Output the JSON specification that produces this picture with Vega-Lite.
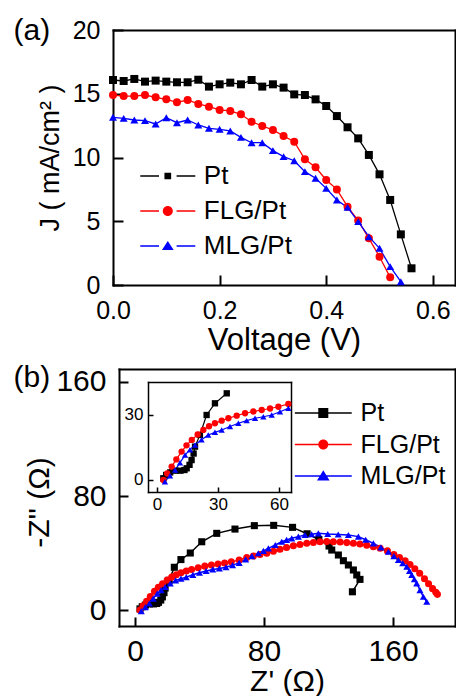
{
  "$schema": "https://vega.github.io/schema/vega-lite/v6.json",
  "width": 456,
  "height": 696,
  "autosize": "none",
  "padding": 0,
  "background": "white",
  "config": {
    "font": "Liberation Sans",
    "view": {"stroke": null},
    "axis": {
      "grid": false,
      "domainColor": "black",
      "domainWidth": 2,
      "domainCap": "square",
      "tickColor": "black",
      "tickWidth": 2,
      "labelColor": "black",
      "titleColor": "black",
      "titleFontWeight": "normal",
      "labelFlush": false,
      "labelOverlap": false
    },
    "legend": {"labelColor": "black", "padding": 0, "symbolStrokeWidth": 0}
  },
  "datasets": {
    "jv": [
      {"s": "Pt", "v": 0.00, "j": 16.08}, {"s": "Pt", "v": 0.02, "j": 16.0}, {"s": "Pt", "v": 0.04, "j": 16.16}, {"s": "Pt", "v": 0.06, "j": 15.95},
      {"s": "Pt", "v": 0.08, "j": 16.03}, {"s": "Pt", "v": 0.10, "j": 15.95}, {"s": "Pt", "v": 0.12, "j": 15.9}, {"s": "Pt", "v": 0.14, "j": 15.9},
      {"s": "Pt", "v": 0.16, "j": 16.1}, {"s": "Pt", "v": 0.18, "j": 15.56}, {"s": "Pt", "v": 0.20, "j": 15.74}, {"s": "Pt", "v": 0.22, "j": 15.87},
      {"s": "Pt", "v": 0.24, "j": 15.74}, {"s": "Pt", "v": 0.26, "j": 16.08}, {"s": "Pt", "v": 0.28, "j": 15.56}, {"s": "Pt", "v": 0.30, "j": 15.74},
      {"s": "Pt", "v": 0.32, "j": 15.48}, {"s": "Pt", "v": 0.34, "j": 14.95}, {"s": "Pt", "v": 0.36, "j": 14.9}, {"s": "Pt", "v": 0.38, "j": 14.56},
      {"s": "Pt", "v": 0.40, "j": 14.04}, {"s": "Pt", "v": 0.42, "j": 13.25}, {"s": "Pt", "v": 0.44, "j": 12.37}, {"s": "Pt", "v": 0.46, "j": 11.5},
      {"s": "Pt", "v": 0.48, "j": 10.2}, {"s": "Pt", "v": 0.50, "j": 8.68}, {"s": "Pt", "v": 0.52, "j": 6.67}, {"s": "Pt", "v": 0.54, "j": 3.97},
      {"s": "Pt", "v": 0.56, "j": 1.31},
      {"s": "FLG/Pt", "v": 0.00, "j": 14.9}, {"s": "FLG/Pt", "v": 0.02, "j": 14.82}, {"s": "FLG/Pt", "v": 0.04, "j": 14.82}, {"s": "FLG/Pt", "v": 0.06, "j": 14.9},
      {"s": "FLG/Pt", "v": 0.08, "j": 14.72}, {"s": "FLG/Pt", "v": 0.10, "j": 14.56}, {"s": "FLG/Pt", "v": 0.12, "j": 14.33}, {"s": "FLG/Pt", "v": 0.14, "j": 14.51},
      {"s": "FLG/Pt", "v": 0.16, "j": 14.2}, {"s": "FLG/Pt", "v": 0.18, "j": 13.99}, {"s": "FLG/Pt", "v": 0.20, "j": 13.73}, {"s": "FLG/Pt", "v": 0.22, "j": 13.65},
      {"s": "FLG/Pt", "v": 0.24, "j": 13.39}, {"s": "FLG/Pt", "v": 0.26, "j": 12.81}, {"s": "FLG/Pt", "v": 0.28, "j": 12.47}, {"s": "FLG/Pt", "v": 0.30, "j": 12.16},
      {"s": "FLG/Pt", "v": 0.32, "j": 11.69}, {"s": "FLG/Pt", "v": 0.34, "j": 11.24}, {"s": "FLG/Pt", "v": 0.36, "j": 9.86}, {"s": "FLG/Pt", "v": 0.38, "j": 9.23},
      {"s": "FLG/Pt", "v": 0.40, "j": 8.24}, {"s": "FLG/Pt", "v": 0.42, "j": 7.5}, {"s": "FLG/Pt", "v": 0.44, "j": 6.14}, {"s": "FLG/Pt", "v": 0.46, "j": 5.05},
      {"s": "FLG/Pt", "v": 0.48, "j": 3.66}, {"s": "FLG/Pt", "v": 0.50, "j": 2.22}, {"s": "FLG/Pt", "v": 0.52, "j": 0.6},
      {"s": "MLG/Pt", "v": 0.00, "j": 13.15}, {"s": "MLG/Pt", "v": 0.02, "j": 13.07}, {"s": "MLG/Pt", "v": 0.04, "j": 12.94}, {"s": "MLG/Pt", "v": 0.06, "j": 12.89},
      {"s": "MLG/Pt", "v": 0.08, "j": 12.63}, {"s": "MLG/Pt", "v": 0.10, "j": 13.12}, {"s": "MLG/Pt", "v": 0.12, "j": 12.73}, {"s": "MLG/Pt", "v": 0.14, "j": 12.94},
      {"s": "MLG/Pt", "v": 0.16, "j": 12.55}, {"s": "MLG/Pt", "v": 0.18, "j": 12.29}, {"s": "MLG/Pt", "v": 0.20, "j": 12.21}, {"s": "MLG/Pt", "v": 0.22, "j": 12.08},
      {"s": "MLG/Pt", "v": 0.24, "j": 11.58}, {"s": "MLG/Pt", "v": 0.26, "j": 11.16}, {"s": "MLG/Pt", "v": 0.28, "j": 11.16}, {"s": "MLG/Pt", "v": 0.30, "j": 10.54},
      {"s": "MLG/Pt", "v": 0.32, "j": 10.07}, {"s": "MLG/Pt", "v": 0.34, "j": 9.75}, {"s": "MLG/Pt", "v": 0.36, "j": 8.89}, {"s": "MLG/Pt", "v": 0.38, "j": 8.37},
      {"s": "MLG/Pt", "v": 0.40, "j": 7.58}, {"s": "MLG/Pt", "v": 0.42, "j": 6.67}, {"s": "MLG/Pt", "v": 0.44, "j": 6.09}, {"s": "MLG/Pt", "v": 0.46, "j": 4.97},
      {"s": "MLG/Pt", "v": 0.48, "j": 3.79}, {"s": "MLG/Pt", "v": 0.50, "j": 2.88}, {"s": "MLG/Pt", "v": 0.52, "j": 1.44}, {"s": "MLG/Pt", "v": 0.54, "j": 0.26}
    ],
    "eis": [
      {"s": "Pt", "zre": 3.1, "zim": 0.8}, {"s": "Pt", "zre": 4.5, "zim": 2.3}, {"s": "Pt", "zre": 6.5, "zim": 3.5}, {"s": "Pt", "zre": 9.0, "zim": 4.3},
      {"s": "Pt", "zre": 11.5, "zim": 4.3}, {"s": "Pt", "zre": 13.5, "zim": 4.6}, {"s": "Pt", "zre": 14.6, "zim": 5.4}, {"s": "Pt", "zre": 16.0, "zim": 7.0},
      {"s": "Pt", "zre": 17.0, "zim": 9.2}, {"s": "Pt", "zre": 18.0, "zim": 12.2}, {"s": "Pt", "zre": 18.7, "zim": 15.4}, {"s": "Pt", "zre": 21.1, "zim": 20.8},
      {"s": "Pt", "zre": 24.4, "zim": 30.0}, {"s": "Pt", "zre": 28.5, "zim": 35.4}, {"s": "Pt", "zre": 34.3, "zim": 40.0}, {"s": "Pt", "zre": 41.4, "zim": 47.9},
      {"s": "Pt", "zre": 50.7, "zim": 53.8}, {"s": "Pt", "zre": 62.0, "zim": 56.8}, {"s": "Pt", "zre": 74.0, "zim": 59.2}, {"s": "Pt", "zre": 86.0, "zim": 59.4},
      {"s": "Pt", "zre": 97.7, "zim": 58.0}, {"s": "Pt", "zre": 106.7, "zim": 53.5}, {"s": "Pt", "zre": 114.0, "zim": 49.5}, {"s": "Pt", "zre": 120.3, "zim": 44.9},
      {"s": "Pt", "zre": 122.0, "zim": 42.1}, {"s": "Pt", "zre": 126.1, "zim": 38.6}, {"s": "Pt", "zre": 129.2, "zim": 34.6}, {"s": "Pt", "zre": 132.3, "zim": 31.6},
      {"s": "Pt", "zre": 135.4, "zim": 28.1}, {"s": "Pt", "zre": 137.5, "zim": 24.6}, {"s": "Pt", "zre": 139.5, "zim": 21.5}, {"s": "Pt", "zre": 134.8, "zim": 12.8},
      {"s": "FLG/Pt", "zre": 3.1, "zim": 0.0}, {"s": "FLG/Pt", "zre": 5.0, "zim": 3.0}, {"s": "FLG/Pt", "zre": 7.2, "zim": 6.2}, {"s": "FLG/Pt", "zre": 9.5, "zim": 9.5},
      {"s": "FLG/Pt", "zre": 12.1, "zim": 13.1}, {"s": "FLG/Pt", "zre": 14.5, "zim": 16.0}, {"s": "FLG/Pt", "zre": 17.1, "zim": 18.5}, {"s": "FLG/Pt", "zre": 20.0, "zim": 21.0},
      {"s": "FLG/Pt", "zre": 22.8, "zim": 23.1}, {"s": "FLG/Pt", "zre": 25.6, "zim": 24.8}, {"s": "FLG/Pt", "zre": 28.5, "zim": 26.2}, {"s": "FLG/Pt", "zre": 31.8, "zim": 27.4},
      {"s": "FLG/Pt", "zre": 35.1, "zim": 28.5}, {"s": "FLG/Pt", "zre": 39.2, "zim": 29.7}, {"s": "FLG/Pt", "zre": 43.3, "zim": 30.8}, {"s": "FLG/Pt", "zre": 47.4, "zim": 31.6},
      {"s": "FLG/Pt", "zre": 51.5, "zim": 32.3}, {"s": "FLG/Pt", "zre": 55.6, "zim": 33.0}, {"s": "FLG/Pt", "zre": 59.7, "zim": 33.8}, {"s": "FLG/Pt", "zre": 64.6, "zim": 35.1},
      {"s": "FLG/Pt", "zre": 69.3, "zim": 36.8}, {"s": "FLG/Pt", "zre": 73.4, "zim": 37.9}, {"s": "FLG/Pt", "zre": 77.5, "zim": 38.9}, {"s": "FLG/Pt", "zre": 81.7, "zim": 39.8},
      {"s": "FLG/Pt", "zre": 85.8, "zim": 41.2}, {"s": "FLG/Pt", "zre": 89.9, "zim": 42.6}, {"s": "FLG/Pt", "zre": 94.0, "zim": 43.9}, {"s": "FLG/Pt", "zre": 98.2, "zim": 45.1},
      {"s": "FLG/Pt", "zre": 102.3, "zim": 46.0}, {"s": "FLG/Pt", "zre": 106.5, "zim": 46.8}, {"s": "FLG/Pt", "zre": 110.6, "zim": 47.4}, {"s": "FLG/Pt", "zre": 114.7, "zim": 47.9},
      {"s": "FLG/Pt", "zre": 118.9, "zim": 48.0}, {"s": "FLG/Pt", "zre": 123.0, "zim": 47.9}, {"s": "FLG/Pt", "zre": 127.2, "zim": 47.7}, {"s": "FLG/Pt", "zre": 131.3, "zim": 47.3},
      {"s": "FLG/Pt", "zre": 135.4, "zim": 46.9}, {"s": "FLG/Pt", "zre": 139.5, "zim": 46.3}, {"s": "FLG/Pt", "zre": 143.7, "zim": 45.4}, {"s": "FLG/Pt", "zre": 147.8, "zim": 44.4},
      {"s": "FLG/Pt", "zre": 152.0, "zim": 43.3}, {"s": "FLG/Pt", "zre": 156.5, "zim": 41.5}, {"s": "FLG/Pt", "zre": 160.5, "zim": 39.0}, {"s": "FLG/Pt", "zre": 164.0, "zim": 36.8},
      {"s": "FLG/Pt", "zre": 167.5, "zim": 34.5}, {"s": "FLG/Pt", "zre": 170.5, "zim": 32.0}, {"s": "FLG/Pt", "zre": 173.5, "zim": 29.0}, {"s": "FLG/Pt", "zre": 176.5, "zim": 25.8},
      {"s": "FLG/Pt", "zre": 179.5, "zim": 22.0}, {"s": "FLG/Pt", "zre": 182.0, "zim": 18.5}, {"s": "FLG/Pt", "zre": 184.5, "zim": 15.0}, {"s": "FLG/Pt", "zre": 186.5, "zim": 12.5},
      {"s": "FLG/Pt", "zre": 187.5, "zim": 11.0},
      {"s": "MLG/Pt", "zre": 3.9, "zim": -0.8}, {"s": "MLG/Pt", "zre": 6.4, "zim": 2.0}, {"s": "MLG/Pt", "zre": 8.9, "zim": 4.6}, {"s": "MLG/Pt", "zre": 11.3, "zim": 8.0},
      {"s": "MLG/Pt", "zre": 13.8, "zim": 11.5}, {"s": "MLG/Pt", "zre": 16.2, "zim": 14.0}, {"s": "MLG/Pt", "zre": 18.7, "zim": 16.2}, {"s": "MLG/Pt", "zre": 21.9, "zim": 18.6},
      {"s": "MLG/Pt", "zre": 25.2, "zim": 20.8}, {"s": "MLG/Pt", "zre": 28.5, "zim": 22.0}, {"s": "MLG/Pt", "zre": 31.8, "zim": 23.1}, {"s": "MLG/Pt", "zre": 35.9, "zim": 24.7},
      {"s": "MLG/Pt", "zre": 40.0, "zim": 26.2}, {"s": "MLG/Pt", "zre": 44.1, "zim": 27.4}, {"s": "MLG/Pt", "zre": 48.2, "zim": 28.5}, {"s": "MLG/Pt", "zre": 52.3, "zim": 29.2},
      {"s": "MLG/Pt", "zre": 56.4, "zim": 30.0}, {"s": "MLG/Pt", "zre": 60.5, "zim": 31.5}, {"s": "MLG/Pt", "zre": 64.6, "zim": 33.1}, {"s": "MLG/Pt", "zre": 68.6, "zim": 35.5},
      {"s": "MLG/Pt", "zre": 72.5, "zim": 37.8}, {"s": "MLG/Pt", "zre": 76.5, "zim": 39.8}, {"s": "MLG/Pt", "zre": 79.6, "zim": 41.5}, {"s": "MLG/Pt", "zre": 82.7, "zim": 43.3},
      {"s": "MLG/Pt", "zre": 87.0, "zim": 45.6}, {"s": "MLG/Pt", "zre": 91.0, "zim": 47.9}, {"s": "MLG/Pt", "zre": 94.0, "zim": 49.2}, {"s": "MLG/Pt", "zre": 97.2, "zim": 50.3},
      {"s": "MLG/Pt", "zre": 101.3, "zim": 51.5}, {"s": "MLG/Pt", "zre": 105.4, "zim": 52.6}, {"s": "MLG/Pt", "zre": 109.5, "zim": 53.2}, {"s": "MLG/Pt", "zre": 113.7, "zim": 53.8},
      {"s": "MLG/Pt", "zre": 119.5, "zim": 53.3}, {"s": "MLG/Pt", "zre": 126.0, "zim": 53.0}, {"s": "MLG/Pt", "zre": 132.3, "zim": 52.6}, {"s": "MLG/Pt", "zre": 138.5, "zim": 51.5},
      {"s": "MLG/Pt", "zre": 143.0, "zim": 49.3}, {"s": "MLG/Pt", "zre": 147.8, "zim": 46.8}, {"s": "MLG/Pt", "zre": 152.5, "zim": 44.0}, {"s": "MLG/Pt", "zre": 157.1, "zim": 40.9},
      {"s": "MLG/Pt", "zre": 160.5, "zim": 37.8}, {"s": "MLG/Pt", "zre": 163.3, "zim": 35.1}, {"s": "MLG/Pt", "zre": 166.0, "zim": 32.8}, {"s": "MLG/Pt", "zre": 168.5, "zim": 30.4},
      {"s": "MLG/Pt", "zre": 170.2, "zim": 27.5}, {"s": "MLG/Pt", "zre": 171.6, "zim": 24.6}, {"s": "MLG/Pt", "zre": 173.2, "zim": 21.6}, {"s": "MLG/Pt", "zre": 174.7, "zim": 18.7},
      {"s": "MLG/Pt", "zre": 176.7, "zim": 14.0}, {"s": "MLG/Pt", "zre": 178.8, "zim": 9.3}, {"s": "MLG/Pt", "zre": 180.9, "zim": 5.8}
    ]
  },
  "layer": [
    {
      "data": {"name": "jv"},
      "encoding": {
        "x": {"field": "v", "type": "quantitative",
          "scale": {"domain": [0, 0.6416], "range": [113, 455], "nice": false, "zero": false},
          "axis": {"orient": "bottom", "offset": -411, "values": [0, 0.2, 0.4, 0.6], "format": ".1f", "labelFontSize": 25, "tickSize": -10, "labelPadding": 23,
            "title": "Voltage (V)", "titleFontSize": 31, "titleY": 64, "titleBaseline": "alphabetic"}},
        "y": {"field": "j", "type": "quantitative",
          "scale": {"domain": [0, 20], "range": [285, 30], "nice": false, "zero": false},
          "axis": {"orient": "left", "offset": -113, "values": [0, 5, 10, 15, 20], "labelFontSize": 25, "tickSize": -10, "labelPadding": 23,
            "title": "J ( mA/cm² )", "titleFontSize": 27, "titleX": -55, "titleBaseline": "alphabetic"}},
        "color": {"field": "s", "type": "nominal", "scale": {"domain": ["Pt", "FLG/Pt", "MLG/Pt"], "range": ["#000000", "#ff0000", "#0000ff"]},
          "legend": {"title": null, "orient": "none", "legendX": 154.8, "legendY": 163, "labelFontSize": 26, "labelOffset": 23, "rowPadding": 9, "symbolSize": 70, "symbolOpacity": 1,
            "symbolType": {"expr": "datum.value == 'Pt' ? 'M-6.58,-0.16H-2.1V0.16H-6.58ZM2.1,-0.16H6.58V0.16H2.1ZM-0.8,-0.8H0.8V0.8H-0.8Z' : datum.value == 'FLG/Pt' ? 'M-6.58,-0.16H-2.1V0.16H-6.58ZM2.1,-0.16H6.58V0.16H2.1ZM1.2,0A1.2,1.2 0 1,1 -1.2,0A1.2,1.2 0 1,1 1.2,0Z' : 'M-6.58,-0.16H-2.1V0.16H-6.58ZM2.1,-0.16H6.58V0.16H2.1ZM0,-1.2L1.4,0.95H-1.4Z'"}}}
      },
      "layer": [
        {"mark": {"type": "line", "strokeWidth": 1.3}},
        {
          "mark": {"type": "point", "filled": true, "opacity": 1, "size": 64},
          "encoding": {
            "shape": {"field": "s", "type": "nominal", "scale": {"domain": ["MLG/Pt", "FLG/Pt", "Pt"], "range": ["triangle-up", "circle", "square"]}, "legend": null}
          }
        }
      ]
    },
    {
      "data": {"name": "jv"},
      "mark": {"type": "point", "opacity": 0},
      "encoding": {
        "x": {"field": "v", "type": "quantitative",
          "scale": {"domain": [0, 0.6416], "range": [113, 455], "nice": false, "zero": false},
          "axis": {"orient": "top", "offset": -30, "ticks": false, "labels": false, "title": "(a)", "titleX": 13, "titleY": 9, "titleAlign": "left", "titleBaseline": "alphabetic", "titleAngle": 0, "titleFontSize": 30}},
        "y": {"field": "j", "type": "quantitative",
          "scale": {"domain": [0, 20], "range": [285, 30], "nice": false, "zero": false},
          "axis": {"orient": "right", "offset": -1, "ticks": false, "labels": false, "title": null}}
      }
    },
    {
      "data": {"name": "eis"},
      "encoding": {
        "x": {"field": "zre", "type": "quantitative",
          "scale": {"domain": [-9.9, 198.4], "range": [119, 455], "nice": false, "zero": false},
          "axis": {"orient": "bottom", "offset": -70, "values": [0, 80, 160], "labelFontSize": 30, "tickSize": -9, "labelPadding": 19,
            "title": "Z' (Ω)", "titleFontSize": 30, "titleY": 64, "titleBaseline": "alphabetic"}},
        "y": {"field": "zim", "type": "quantitative",
          "scale": {"domain": [-11.2, 169.1], "range": [626, 369], "nice": false, "zero": false},
          "axis": {"orient": "left", "offset": -119, "values": [0, 80, 160], "labelFontSize": 30, "tickSize": -9, "labelPadding": 22,
            "title": "-Z'' (Ω)", "titleFontSize": 30, "titleX": -71, "titleY": 502, "titleBaseline": "alphabetic"}},
        "color": {"field": "s", "type": "nominal", "scale": {"domain": ["Pt", "FLG/Pt", "MLG/Pt"], "range": ["#000000", "#ff0000", "#0000ff"]},
          "legend": {"title": null, "orient": "none", "legendX": 310.8, "legendY": 400.5, "labelFontSize": 25, "labelOffset": 24.8, "rowPadding": 5.5, "symbolSize": 70, "symbolOpacity": 1,
            "symbolType": {"expr": "datum.value == 'Pt' ? 'M-6.8,-0.18H6.8V0.18H-6.8ZM-1.2,-1.2H1.2V1.2H-1.2Z' : datum.value == 'FLG/Pt' ? 'M-6.8,-0.18H6.8V0.18H-6.8ZM1.2,0A1.2,1.2 0 1,1 -1.2,0A1.2,1.2 0 1,1 1.2,0Z' : 'M-6.8,-0.18H6.8V0.18H-6.8ZM0,-1.35L1.5,1.05H-1.5Z'"}}}
      },
      "layer": [
        {
          "mark": {"type": "line", "strokeWidth": 1.5},
          "encoding": {"order": {"value": null}}
        },
        {
          "mark": {"type": "point", "filled": true, "opacity": 1, "size": 50},
          "encoding": {
            "shape": {"field": "s", "type": "nominal", "scale": {"domain": ["MLG/Pt", "FLG/Pt", "Pt"], "range": ["triangle-up", "circle", "square"]}, "legend": null}
          }
        }
      ]
    },
    {
      "data": {"name": "eis"},
      "mark": {"type": "point", "opacity": 0},
      "encoding": {
        "x": {"field": "zre", "type": "quantitative",
          "scale": {"domain": [-9.9, 198.4], "range": [119, 455], "nice": false, "zero": false},
          "axis": {"orient": "top", "offset": -369, "ticks": false, "labels": false, "title": "(b)", "titleX": 13, "titleY": 17, "titleAlign": "left", "titleBaseline": "alphabetic", "titleAngle": 0, "titleFontSize": 30}},
        "y": {"field": "zim", "type": "quantitative",
          "scale": {"domain": [-11.2, 169.1], "range": [626, 369], "nice": false, "zero": false},
          "axis": {"orient": "right", "offset": -1, "ticks": false, "labels": false, "title": null}}
      }
    },
    {
      "data": {"name": "eis"},
      "transform": [{"filter": "datum.zre <= 66 && datum.zim <= 45.3"}],
      "encoding": {
        "x": {"field": "zre", "type": "quantitative",
          "scale": {"domain": [-4.43, 65.9], "range": [148, 291], "nice": false, "zero": false},
          "axis": {"orient": "bottom", "offset": -204, "values": [0, 30, 60], "labelFontSize": 17, "tickSize": -5, "tickWidth": 1.5, "domainWidth": 1.5, "labelPadding": 9, "title": null}},
        "y": {"field": "zim", "type": "quantitative",
          "scale": {"domain": [-5.54, 45.23], "range": [492, 382], "nice": false, "zero": false},
          "axis": {"orient": "left", "offset": -148, "values": [0, 30], "labelFontSize": 17, "tickSize": -5, "tickWidth": 1.5, "domainWidth": 1.5, "labelPadding": 10, "title": null}},
        "color": {"field": "s", "type": "nominal", "scale": {"domain": ["Pt", "FLG/Pt", "MLG/Pt"], "range": ["#000000", "#ff0000", "#0000ff"]}, "legend": null}
      },
      "layer": [
        {
          "mark": {"type": "line", "strokeWidth": 1.2},
          "encoding": {"order": {"value": null}}
        },
        {
          "mark": {"type": "point", "filled": true, "opacity": 1, "size": 40},
          "encoding": {
            "shape": {"field": "s", "type": "nominal", "scale": {"domain": ["MLG/Pt", "FLG/Pt", "Pt"], "range": ["triangle-up", "circle", "square"]}, "legend": null}
          }
        }
      ]
    },
    {
      "data": {"name": "eis"},
      "mark": {"type": "point", "opacity": 0},
      "encoding": {
        "x": {"field": "zre", "type": "quantitative",
          "scale": {"domain": [-4.43, 65.9], "range": [148, 291], "nice": false, "zero": false},
          "axis": {"orient": "top", "offset": -382, "ticks": false, "labels": false, "domainWidth": 1.5, "title": null}},
        "y": {"field": "zim", "type": "quantitative",
          "scale": {"domain": [-5.54, 45.23], "range": [492, 382], "nice": false, "zero": false},
          "axis": {"orient": "right", "offset": -165, "ticks": false, "labels": false, "domainWidth": 1.5, "title": null}}
      }
    }
  ],
  "resolve": {"scale": {"x": "independent", "y": "independent", "color": "independent", "shape": "independent"}}
}
